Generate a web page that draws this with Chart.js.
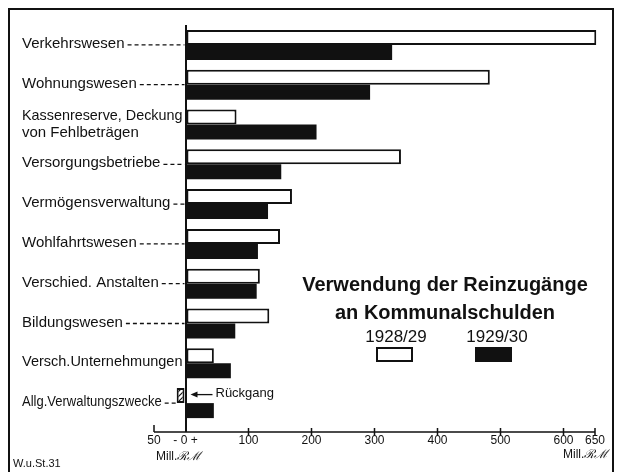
<!DOCTYPE html>
<html lang="de">
<head>
<meta charset="utf-8">
<title>Verwendung der Reinzugänge an Kommunalschulden</title>
<script src="https://cdn.jsdelivr.net/npm/chart.js@4.4.1/dist/chart.umd.min.js"></script>
<style>
  html, body { margin: 0; padding: 0; background: #fff; }
  #wrap { position: relative; width: 619px; height: 472px; overflow: hidden;
          font-family: "Liberation Sans", Arial, sans-serif; color: #111; }
  #chart { position: absolute; left: 0; top: 0; }
  .frame { position: absolute; left: 8px; top: 8px; width: 602px; height: 500px;
           border: 2px solid #111; pointer-events: none; }
  .title { position: absolute; left: 295px; top: 270px; width: 300px; text-align: center;
           font-weight: bold; font-size: 20px; line-height: 28px; white-space: nowrap; }
  .year { position: absolute; top: 327px; width: 80px; text-align: center;
          font-size: 17px; line-height: 20px; }
  .swatch { position: absolute; top: 347px; width: 37px; height: 15px; box-sizing: border-box;
            border: 2px solid #111; }
  .note { position: absolute; font-size: 11px; line-height: 13px; white-space: nowrap; }
  .unit { position: absolute; font-size: 12px; line-height: 14px; white-space: nowrap; }
  .unit i { font-family: "DejaVu Serif", serif; }
</style>
</head>
<body>
<div id="wrap">
  <canvas id="chart" width="619" height="472"></canvas>
  <div class="frame"></div>
  <div class="title">Verwendung der Reinzugänge<br>an Kommunalschulden</div>
  <div class="year" style="left:356px">1928/29</div>
  <div class="year" style="left:457px">1929/30</div>
  <div class="swatch" style="left:376px; background:#fff"></div>
  <div class="swatch" style="left:475px; background:#111"></div>
  <div class="note" style="left:13px; top:457px">W.u.St.31</div>
  <div class="unit" style="left:156px; top:449px">Mill.<i>ℛℳ</i></div>
  <div class="unit" style="left:563px; top:447px">Mill.<i>ℛℳ</i></div>
</div>
<script>
// Kategorien (von oben nach unten)
const categories = [
  "Verkehrswesen",
  "Wohnungswesen",
  ["Kassenreserve, Deckung", "von Fehlbeträgen"],
  "Versorgungsbetriebe",
  "Vermögensverwaltung",
  "Wohlfahrtswesen",
  "Verschied. Anstalten",
  "Bildungswesen",
  "Versch.Unternehmungen",
  "Allg.Verwaltungszwecke"
];

// Mill. RM
const values1928 = [652, 483, 81, 342, 169, 150, 118, 133, 45, -14];
const values1929 = [328, 293, 208, 152, 131, 115, 113, 79, 72, 45];

const tickValues = [-50, 0, 100, 200, 300, 400, 500, 600, 650];
const tickLabels = ["50", "- 0 +", "100", "200", "300", "400", "500", "600", "650"];

const FONT = '"Liberation Sans", Arial, sans-serif';
const INK = '#111';
const LABEL_X = 22;

// Schraffur für den Rückgang
function makeHatch() {
  const c = document.createElement('canvas');
  c.width = 5; c.height = 5;
  const g = c.getContext('2d');
  g.fillStyle = '#fff';
  g.fillRect(0, 0, 5, 5);
  g.strokeStyle = INK;
  g.lineWidth = 1.2;
  g.beginPath();
  g.moveTo(0, 5); g.lineTo(5, 0);
  g.moveTo(-1, 1); g.lineTo(1, -1);
  g.moveTo(4, 6); g.lineTo(6, 4);
  g.stroke();
  return g.createPattern(c, 'repeat');
}
const hatch = makeHatch();

/** Beschriftungen links, Leitlinien, Achse und Hinweis "Rückgang" */
const decoPlugin = {
  id: 'deco',
  afterDraw(chart) {
    const ctx = chart.ctx;
    const x = chart.scales.x, y = chart.scales.y;
    const x0 = x.getPixelForValue(0);
    ctx.save();
    ctx.fillStyle = INK;
    ctx.strokeStyle = INK;

    // Kategorien
    ctx.font = '15px ' + FONT;
    ctx.textAlign = 'left';
    ctx.textBaseline = 'middle';
    categories.forEach((lab, i) => {
      const cy = y.getPixelForValue(i);
      const limit = Math.min(x0, x.getPixelForValue(values1928[i])) - 3;
      if (Array.isArray(lab)) {
        lab.forEach((line, k) =>
          ctx.fillText(line, LABEL_X, cy + (k - (lab.length - 1) / 2) * 17, limit - LABEL_X));
        return;
      }
      const room = values1928[i] < 0 ? limit - LABEL_X - 12 : limit - LABEL_X;
      const w = Math.min(ctx.measureText(lab).width, room);
      ctx.fillText(lab, LABEL_X, cy - 1, room);
      const start = LABEL_X + w + 3;
      if (limit - start > 5) {
        ctx.save();
        ctx.lineWidth = 1.3;
        ctx.setLineDash([4, 3]);
        ctx.beginPath();
        ctx.moveTo(start, cy);
        ctx.lineTo(limit + 2, cy);
        ctx.stroke();
        ctx.restore();
      }
    });

    // untere Achse
    const ay = chart.chartArea.bottom + 9;
    ctx.lineWidth = 1.5;
    ctx.beginPath();
    ctx.moveTo(x.getPixelForValue(tickValues[0]), ay);
    ctx.lineTo(x.getPixelForValue(tickValues[tickValues.length - 1]), ay);
    tickValues.forEach((v, i) => {
      const px = x.getPixelForValue(v);
      if (i === 0) { ctx.moveTo(px, ay - 7); ctx.lineTo(px, ay); }
      else if (v !== 0) { ctx.moveTo(px, ay - 4); ctx.lineTo(px, ay + 3); }
    });
    ctx.stroke();

    // Rückgang
    const neg = values1928.findIndex(v => v < 0);
    if (neg >= 0) {
      const bar = chart.getDatasetMeta(0).data[neg];
      const by = bar.y - 1;
      ctx.lineWidth = 1.3;
      ctx.beginPath();
      ctx.moveTo(x0 + 8, by);
      ctx.lineTo(x0 + 27, by);
      ctx.stroke();
      ctx.beginPath();
      ctx.moveTo(x0 + 5, by);
      ctx.lineTo(x0 + 12, by - 3);
      ctx.lineTo(x0 + 12, by + 3);
      ctx.closePath();
      ctx.fill();
      ctx.font = '13px ' + FONT;
      ctx.fillText('Rückgang', x0 + 30, by - 1);
    }
    ctx.restore();
  }
};

const zeroOnly = c => (c.tick && c.tick.value === 0) ? INK : 'rgba(0,0,0,0)';

new Chart(document.getElementById('chart'), {
  type: 'bar',
  data: {
    labels: categories,
    datasets: [
      {
        label: '1928/29',
        data: values1928,
        backgroundColor: c => (c.raw < 0 ? hatch : '#fff'),
        borderColor: INK,
        borderWidth: 2,
        borderSkipped: false,
        clip: false
      },
      {
        label: '1929/30',
        data: values1929,
        backgroundColor: INK,
        borderWidth: 0,
        clip: false
      }
    ]
  },
  options: {
    indexAxis: 'y',
    responsive: false,
    animation: false,
    layout: { padding: { left: 154, right: 24, top: 25, bottom: 0 } },
    datasets: { bar: { categoryPercentage: 0.754, barPercentage: 1.0 } },
    plugins: { legend: { display: false }, tooltip: { enabled: false } },
    scales: {
      y: { type: 'category', display: false, offset: true },
      x: {
        type: 'linear',
        min: tickValues[0],
        max: tickValues[tickValues.length - 1],
        afterBuildTicks: s => { s.ticks = tickValues.map(v => ({ value: v })); },
        afterFit: s => { s.height = 49; },
        border: { display: false },
        grid: {
          drawOnChartArea: true,
          color: zeroOnly,
          tickColor: zeroOnly,
          lineWidth: 2,
          tickLength: 9
        },
        ticks: {
          autoSkip: false,
          maxRotation: 0,
          padding: 1,
          color: INK,
          font: { family: FONT, size: 12 },
          callback: (v, i) => tickLabels[i]
        }
      }
    }
  },
  plugins: [decoPlugin]
});
</script>
</body>
</html>
